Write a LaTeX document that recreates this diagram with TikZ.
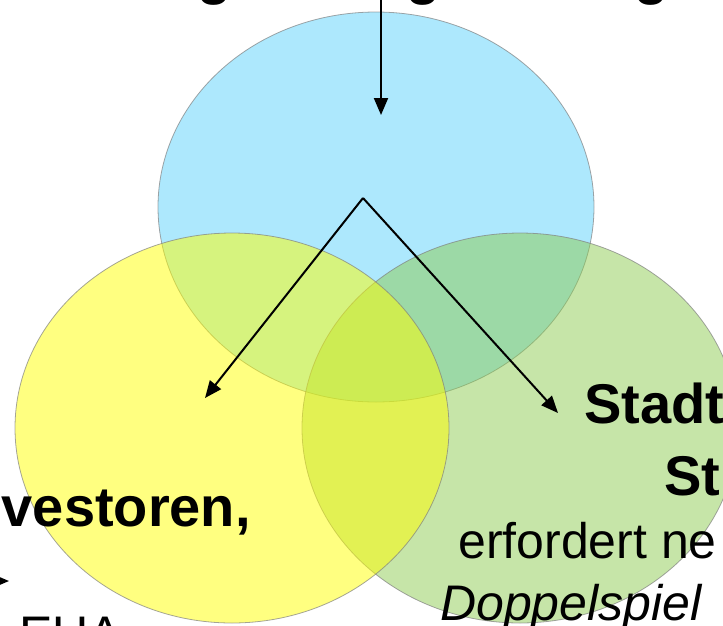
\documentclass[tikz,border=0pt]{standalone}
\usepackage{fontspec}
\setmainfont{Liberation Sans}
\usetikzlibrary{arrows.meta}
\definecolor{kreisblau}{RGB}{91,209,251}
\definecolor{kreisgelb}{RGB}{255,255,1}
\definecolor{kreisgruen}{RGB}{141,203,81}

\begin{document}
\begin{tikzpicture}[x=1pt,y=-1pt,
  pfeil/.style={line width=2pt,-{Triangle[length=17pt,width=14pt]}},
  fett/.style={font=\fontsize{56}{60}\selectfont\bfseries,inner sep=0pt},
  normal/.style={font=\fontsize{50}{54}\selectfont,inner sep=0pt}]
\useasboundingbox (0,0) rectangle (723,625);
\clip (0,0) rectangle (723,625);
\newcommand\kreis[4]{
\path[fill=#4,fill opacity=0.5,draw=black!50,draw opacity=0.7,line width=0.8pt] (#1,#2) ellipse [x radius=#3,y radius=195];
}
\kreis{376}{207}{218}{kreisblau}
\kreis{520}{428}{218}{kreisgruen}
\kreis{232}{428}{217}{kreisgelb}
% pfeile
\coordinate (oben) at (381,-20);
\coordinate (ziel) at (381,115);
\coordinate (spitze) at (363,198);
\coordinate (links) at (205,398);
\coordinate (rechts) at (558,413);
\coordinate (rand) at (-40,581);
\coordinate (randziel) at (9,581);
\draw[pfeil] (oben) -- (ziel);
\draw[pfeil] (spitze) -- (links);
\draw[pfeil] (spitze) -- (rechts);
\draw[pfeil] (rand) -- (randziel);
% texte
\node[fett,anchor=base] (g1) at (215,-7) {g};
\node[fett,anchor=base] (g2) at (424,-7) {g};
\node[fett,anchor=base] (g3) at (652,-7) {g};
\node[fett,anchor=base west] (stadt) at (584,423) {Stadt};
\node[fett,anchor=base west] (st) at (664,495) {St};
\node[fett,anchor=base east] (investoren) at (251,526) {vestoren,};
\node[normal,anchor=base west] (erfordert) at (458,558) {erfordert ne};
\node[normal,font=\fontsize{50}{54}\selectfont\itshape,anchor=base west] (doppel) at (440,620) {Doppelspiel};
\node[normal,anchor=base west] (eua) at (19,651) {EUA};
\end{tikzpicture}
\end{document}
